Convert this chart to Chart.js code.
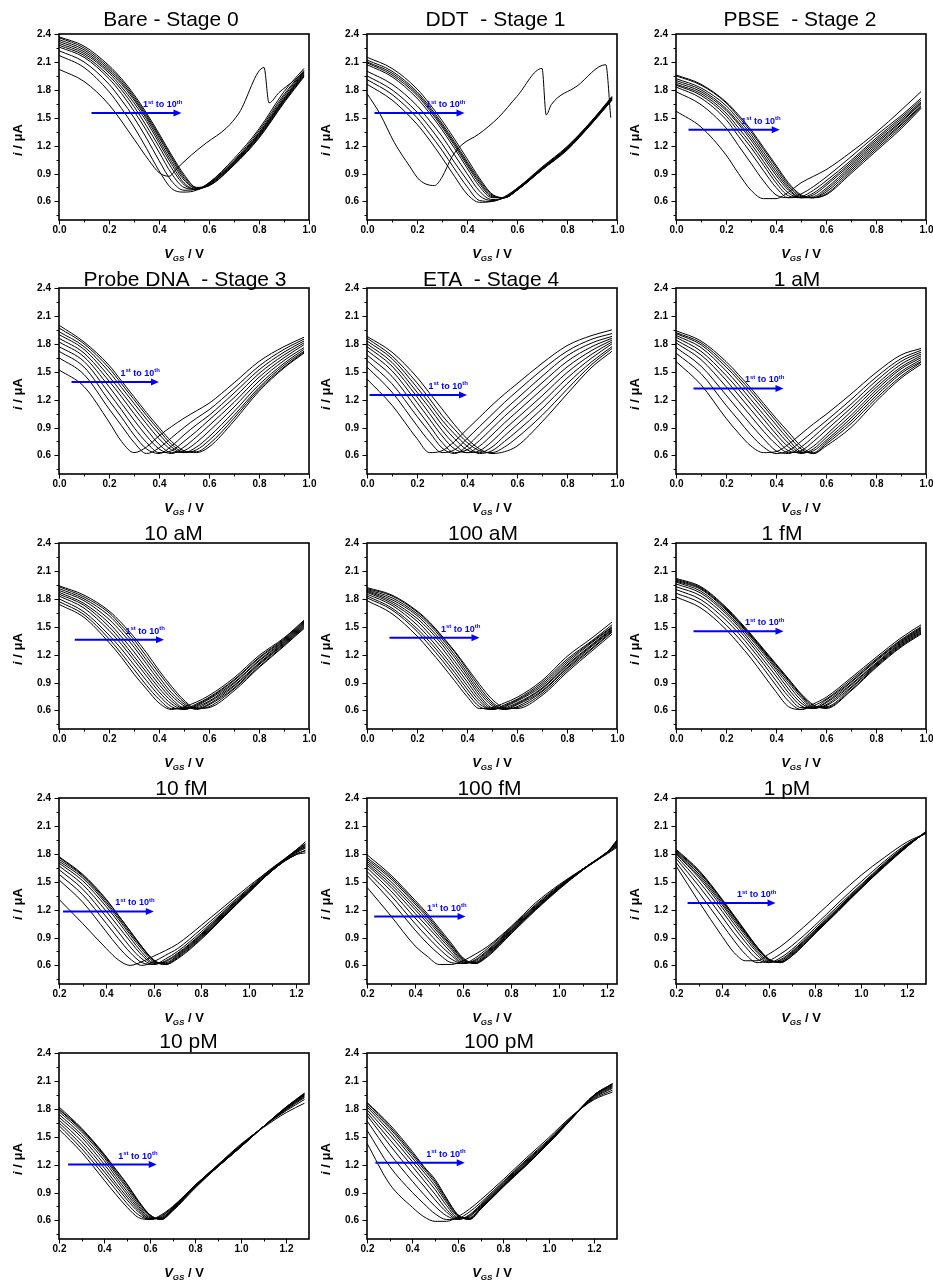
<!DOCTYPE html>
<html><head><meta charset="utf-8">
<script src="https://cdn.jsdelivr.net/npm/chart.js@4.4.1/dist/chart.umd.min.js"></script>
<style>
html,body{margin:0;padding:0;background:#fff;}
#wrap{position:relative;width:933px;height:1285px;overflow:hidden;background:#fff;}
#wrap canvas{position:absolute;}
</style></head><body><div id="wrap"></div>
<script>
// ---------- data ----------
const TITLES = ['Bare - Stage 0','DDT  - Stage 1','PBSE  - Stage 2','Probe DNA  - Stage 3','ETA  - Stage 4','1 aM','10 aM','100 aM','1 fM','10 fM','100 fM','1 pM','10 pM','100 pM'];
const Y_MAJOR = [0.6, 0.9, 1.2, 1.5, 1.8, 2.1, 2.4];
const Y_MINOR = [0.45, 0.75, 1.05, 1.35, 1.65, 1.95, 2.25];
const X_MAJOR_A = [0, 0.2, 0.4, 0.6, 0.8, 1.0];
const X_MINOR_A = [0.1, 0.3, 0.5, 0.7, 0.9];
const X_MAJOR_B = [0.2, 0.4, 0.6, 0.8, 1.0, 1.2];
const X_MINOR_B = [0.3, 0.5, 0.7, 0.9, 1.1];
const X_MIN = [0,0,0,0,0,0,0,0,0,0.2,0.2,0.2,0.2,0.2];
const X_MAX = [1,1,1,1,1,1,1,1,1,1.255,1.24,1.28,1.3,1.3];
const ARROW_Y  = [1.55, 1.55, 1.37, 1.39, 1.25, 1.32, 1.36, 1.38, 1.45, 1.18, 1.125, 1.27, 1.2, 1.22];
const ARROW_X0 = [0.13, 0.03, 0.05, 0.05, 0.01, 0.07, 0.063, 0.09, 0.07, 0.217, 0.23, 0.25, 0.24, 0.237];
const ARROW_X1 = [0.49, 0.39, 0.415, 0.40, 0.40, 0.43, 0.42, 0.45, 0.43, 0.60, 0.61, 0.63, 0.63, 0.63];

const X_A = [0, 0.1, 0.2, 0.25, 0.3, 0.35, 0.4, 0.45, 0.5, 0.55, 0.6, 0.7, 0.8, 0.9, 0.98];
const X_B = [0.2, 0.3, 0.4, 0.45, 0.5, 0.55, 0.6, 0.65, 0.7, 0.8, 0.9, 1.0, 1.1, 1.2, 1.24];
const X_C = [0.2, 0.3, 0.4, 0.45, 0.5, 0.55, 0.6, 0.65, 0.7, 0.8, 0.9, 1.0, 1.1, 1.2, 1.28];

const bareFirstX = [0, 0.1, 0.2, 0.3, 0.36, 0.4, 0.44, 0.47, 0.53, 0.59, 0.67, 0.72, 0.82, 0.84, 0.88, 0.94, 0.98];
const bareFirstY = [2.02, 1.89, 1.64, 1.27, 1.04, 0.91, 0.87, 0.95, 1.10, 1.23, 1.39, 1.55, 2.04, 1.66, 1.77, 1.90, 1.99];
const bareY = [
 [2.17, 2.04, 1.78, 1.60, 1.40, 1.17, 0.93, 0.74, 0.70, 0.72, 0.80, 1.06, 1.38, 1.78, 2.03],
 [2.22, 2.10, 1.86, 1.69, 1.50, 1.28, 1.04, 0.82, 0.72, 0.73, 0.80, 1.04, 1.36, 1.75, 2.01],
 [2.26, 2.15, 1.92, 1.76, 1.57, 1.36, 1.13, 0.90, 0.75, 0.73, 0.79, 1.03, 1.34, 1.73, 2.00],
 [2.28, 2.17, 1.95, 1.80, 1.62, 1.41, 1.19, 0.96, 0.78, 0.73, 0.79, 1.02, 1.33, 1.71, 1.99],
 [2.30, 2.19, 1.98, 1.83, 1.66, 1.46, 1.23, 1.00, 0.80, 0.73, 0.78, 1.02, 1.32, 1.70, 1.98],
 [2.32, 2.21, 2.00, 1.86, 1.69, 1.49, 1.26, 1.03, 0.83, 0.74, 0.78, 1.01, 1.31, 1.69, 1.97],
 [2.34, 2.23, 2.02, 1.88, 1.71, 1.51, 1.29, 1.06, 0.85, 0.74, 0.77, 1.00, 1.30, 1.68, 1.96],
 [2.36, 2.25, 2.04, 1.90, 1.73, 1.53, 1.31, 1.08, 0.87, 0.75, 0.77, 1.00, 1.29, 1.67, 1.95],
 [2.37, 2.27, 2.06, 1.92, 1.75, 1.55, 1.33, 1.10, 0.89, 0.75, 0.77, 0.99, 1.28, 1.66, 1.94]
];
const ddtFirstX = [0, 0.05, 0.11, 0.17, 0.21, 0.27, 0.3, 0.34, 0.38, 0.445, 0.525, 0.6, 0.7, 0.717, 0.737, 0.84, 0.955, 0.975];
const ddtFirstY = [1.76, 1.55, 1.23, 0.98, 0.83, 0.77, 0.86, 1.08, 1.21, 1.32, 1.50, 1.73, 2.03, 1.53, 1.64, 1.84, 2.07, 1.50];
const ddtY = [
 [1.86, 1.69, 1.43, 1.26, 1.07, 0.87, 0.68, 0.59, 0.60, 0.65, 0.74, 0.97, 1.19, 1.47, 1.73],
 [1.91, 1.75, 1.50, 1.33, 1.15, 0.95, 0.76, 0.61, 0.60, 0.65, 0.74, 0.96, 1.18, 1.47, 1.72],
 [1.95, 1.80, 1.56, 1.40, 1.22, 1.02, 0.83, 0.66, 0.61, 0.64, 0.73, 0.96, 1.18, 1.46, 1.72],
 [2.00, 1.86, 1.63, 1.47, 1.30, 1.10, 0.90, 0.71, 0.62, 0.64, 0.73, 0.95, 1.17, 1.46, 1.71],
 [2.07, 1.94, 1.71, 1.55, 1.37, 1.17, 0.96, 0.76, 0.64, 0.64, 0.73, 0.95, 1.17, 1.45, 1.71],
 [2.09, 1.96, 1.74, 1.58, 1.40, 1.20, 0.99, 0.79, 0.65, 0.64, 0.72, 0.95, 1.16, 1.45, 1.70],
 [2.10, 1.98, 1.76, 1.60, 1.42, 1.22, 1.01, 0.81, 0.66, 0.64, 0.72, 0.94, 1.16, 1.45, 1.70],
 [2.12, 2.00, 1.78, 1.62, 1.44, 1.24, 1.03, 0.83, 0.67, 0.64, 0.72, 0.94, 1.16, 1.44, 1.69],
 [2.15, 2.03, 1.81, 1.65, 1.47, 1.27, 1.06, 0.85, 0.68, 0.64, 0.72, 0.94, 1.15, 1.44, 1.69]
];
const pbseY = [
 [1.57, 1.40, 1.10, 0.90, 0.72, 0.63, 0.63, 0.70, 0.80, 0.87, 0.94, 1.13, 1.34, 1.58, 1.78],
 [1.78, 1.64, 1.39, 1.20, 1.01, 0.82, 0.67, 0.64, 0.68, 0.76, 0.86, 1.08, 1.31, 1.52, 1.71],
 [1.83, 1.71, 1.48, 1.30, 1.12, 0.93, 0.75, 0.64, 0.65, 0.72, 0.82, 1.04, 1.28, 1.50, 1.69],
 [1.85, 1.74, 1.52, 1.35, 1.18, 0.99, 0.80, 0.66, 0.64, 0.69, 0.79, 1.02, 1.26, 1.48, 1.67],
 [1.86, 1.76, 1.55, 1.39, 1.22, 1.03, 0.84, 0.69, 0.64, 0.67, 0.77, 1.00, 1.24, 1.46, 1.66],
 [1.88, 1.78, 1.58, 1.43, 1.26, 1.07, 0.88, 0.72, 0.64, 0.65, 0.74, 0.98, 1.22, 1.45, 1.65],
 [1.90, 1.80, 1.60, 1.45, 1.29, 1.10, 0.91, 0.74, 0.64, 0.64, 0.72, 0.96, 1.20, 1.43, 1.63],
 [1.92, 1.82, 1.63, 1.48, 1.32, 1.13, 0.94, 0.76, 0.65, 0.64, 0.70, 0.94, 1.18, 1.42, 1.62],
 [1.95, 1.85, 1.66, 1.51, 1.35, 1.16, 0.97, 0.78, 0.66, 0.64, 0.68, 0.92, 1.16, 1.40, 1.61],
 [1.96, 1.86, 1.67, 1.53, 1.37, 1.18, 0.99, 0.80, 0.67, 0.64, 0.67, 0.90, 1.14, 1.38, 1.60]
];
const probeY = [
 [1.52, 1.34, 0.96, 0.75, 0.63, 0.69, 0.81, 0.91, 1.00, 1.08, 1.16, 1.38, 1.61, 1.77, 1.87],
 [1.65, 1.47, 1.10, 0.92, 0.74, 0.62, 0.68, 0.79, 0.90, 1.00, 1.09, 1.32, 1.56, 1.74, 1.85],
 [1.72, 1.55, 1.19, 1.01, 0.82, 0.67, 0.62, 0.70, 0.82, 0.93, 1.03, 1.27, 1.52, 1.71, 1.83],
 [1.77, 1.61, 1.27, 1.09, 0.90, 0.74, 0.63, 0.65, 0.75, 0.86, 0.98, 1.22, 1.48, 1.68, 1.81],
 [1.82, 1.66, 1.34, 1.16, 0.98, 0.81, 0.67, 0.62, 0.69, 0.80, 0.92, 1.17, 1.44, 1.65, 1.79],
 [1.86, 1.70, 1.40, 1.23, 1.05, 0.88, 0.72, 0.63, 0.65, 0.74, 0.86, 1.12, 1.40, 1.62, 1.76],
 [1.90, 1.74, 1.45, 1.28, 1.11, 0.94, 0.78, 0.66, 0.63, 0.69, 0.80, 1.07, 1.36, 1.59, 1.74],
 [1.93, 1.77, 1.50, 1.33, 1.16, 0.99, 0.83, 0.69, 0.63, 0.66, 0.76, 1.03, 1.33, 1.57, 1.72],
 [1.97, 1.80, 1.54, 1.37, 1.20, 1.03, 0.87, 0.72, 0.64, 0.64, 0.72, 1.00, 1.31, 1.55, 1.71],
 [2.00, 1.82, 1.57, 1.40, 1.23, 1.06, 0.90, 0.75, 0.65, 0.63, 0.69, 0.97, 1.29, 1.54, 1.70]
];
const etaY = [
 [1.42, 1.14, 0.78, 0.63, 0.65, 0.75, 0.88, 1.01, 1.14, 1.26, 1.37, 1.59, 1.78, 1.89, 1.95],
 [1.55, 1.28, 0.92, 0.75, 0.63, 0.66, 0.78, 0.91, 1.04, 1.17, 1.29, 1.52, 1.72, 1.85, 1.91],
 [1.62, 1.37, 1.02, 0.85, 0.68, 0.62, 0.70, 0.83, 0.96, 1.09, 1.21, 1.45, 1.67, 1.81, 1.88],
 [1.68, 1.45, 1.10, 0.92, 0.74, 0.63, 0.66, 0.76, 0.89, 1.02, 1.14, 1.38, 1.61, 1.77, 1.86],
 [1.73, 1.51, 1.17, 0.99, 0.81, 0.67, 0.63, 0.70, 0.82, 0.95, 1.07, 1.31, 1.55, 1.73, 1.84],
 [1.77, 1.56, 1.23, 1.05, 0.87, 0.72, 0.63, 0.65, 0.75, 0.88, 1.00, 1.24, 1.49, 1.69, 1.82],
 [1.80, 1.60, 1.28, 1.11, 0.93, 0.78, 0.66, 0.63, 0.69, 0.81, 0.93, 1.17, 1.43, 1.65, 1.80],
 [1.83, 1.64, 1.33, 1.16, 0.98, 0.83, 0.70, 0.62, 0.65, 0.75, 0.86, 1.10, 1.37, 1.61, 1.77],
 [1.86, 1.67, 1.38, 1.21, 1.03, 0.88, 0.74, 0.65, 0.63, 0.69, 0.79, 1.03, 1.31, 1.58, 1.75],
 [1.88, 1.71, 1.44, 1.27, 1.10, 0.93, 0.78, 0.67, 0.62, 0.64, 0.70, 0.96, 1.26, 1.55, 1.72]
];
const aM1Y = [
 [1.61, 1.36, 1.00, 0.84, 0.70, 0.63, 0.64, 0.72, 0.83, 0.94, 1.04, 1.26, 1.49, 1.68, 1.75],
 [1.70, 1.48, 1.14, 0.98, 0.82, 0.69, 0.62, 0.65, 0.75, 0.86, 0.97, 1.20, 1.44, 1.64, 1.73],
 [1.76, 1.56, 1.25, 1.09, 0.93, 0.78, 0.65, 0.62, 0.69, 0.80, 0.92, 1.15, 1.40, 1.61, 1.71],
 [1.81, 1.63, 1.34, 1.18, 1.02, 0.86, 0.72, 0.63, 0.65, 0.75, 0.87, 1.11, 1.36, 1.58, 1.69],
 [1.84, 1.68, 1.41, 1.25, 1.09, 0.93, 0.78, 0.65, 0.63, 0.70, 0.82, 1.07, 1.33, 1.55, 1.67],
 [1.87, 1.72, 1.46, 1.31, 1.15, 0.99, 0.83, 0.69, 0.62, 0.67, 0.79, 1.03, 1.30, 1.53, 1.65],
 [1.89, 1.76, 1.51, 1.36, 1.20, 1.04, 0.88, 0.73, 0.63, 0.65, 0.76, 1.00, 1.27, 1.50, 1.63],
 [1.91, 1.79, 1.55, 1.41, 1.25, 1.09, 0.93, 0.77, 0.64, 0.63, 0.74, 0.97, 1.24, 1.48, 1.61],
 [1.92, 1.81, 1.58, 1.44, 1.29, 1.13, 0.97, 0.81, 0.67, 0.62, 0.72, 0.94, 1.21, 1.45, 1.60],
 [1.94, 1.83, 1.61, 1.47, 1.32, 1.16, 1.00, 0.85, 0.70, 0.62, 0.70, 0.90, 1.18, 1.43, 1.58]
];
const aM10Y = [
 [1.74, 1.60, 1.33, 1.17, 0.99, 0.83, 0.68, 0.61, 0.64, 0.69, 0.76, 0.95, 1.19, 1.38, 1.57],
 [1.77, 1.63, 1.37, 1.21, 1.04, 0.87, 0.72, 0.62, 0.62, 0.67, 0.74, 0.93, 1.17, 1.37, 1.56],
 [1.80, 1.66, 1.41, 1.26, 1.09, 0.92, 0.76, 0.64, 0.61, 0.66, 0.73, 0.92, 1.16, 1.36, 1.55],
 [1.83, 1.70, 1.46, 1.31, 1.14, 0.97, 0.80, 0.67, 0.61, 0.65, 0.72, 0.90, 1.14, 1.35, 1.54],
 [1.85, 1.73, 1.50, 1.35, 1.18, 1.01, 0.84, 0.70, 0.62, 0.64, 0.70, 0.89, 1.13, 1.34, 1.53],
 [1.87, 1.75, 1.54, 1.39, 1.23, 1.05, 0.88, 0.73, 0.63, 0.63, 0.69, 0.87, 1.11, 1.33, 1.52],
 [1.89, 1.78, 1.58, 1.44, 1.28, 1.10, 0.92, 0.76, 0.65, 0.62, 0.67, 0.86, 1.10, 1.32, 1.51],
 [1.91, 1.80, 1.62, 1.48, 1.32, 1.14, 0.96, 0.79, 0.67, 0.61, 0.66, 0.84, 1.09, 1.31, 1.50],
 [1.93, 1.82, 1.65, 1.51, 1.36, 1.18, 1.00, 0.83, 0.69, 0.62, 0.64, 0.83, 1.07, 1.30, 1.49],
 [1.94, 1.84, 1.67, 1.54, 1.39, 1.22, 1.03, 0.86, 0.71, 0.62, 0.63, 0.81, 1.06, 1.29, 1.48]
];
const aM100Y = [
 [1.78, 1.64, 1.40, 1.25, 1.09, 0.92, 0.75, 0.62, 0.63, 0.68, 0.74, 0.92, 1.18, 1.38, 1.55],
 [1.81, 1.68, 1.45, 1.30, 1.14, 0.97, 0.79, 0.64, 0.61, 0.66, 0.72, 0.90, 1.15, 1.35, 1.52],
 [1.83, 1.70, 1.48, 1.34, 1.18, 1.01, 0.83, 0.67, 0.61, 0.65, 0.71, 0.88, 1.13, 1.34, 1.50],
 [1.85, 1.73, 1.52, 1.38, 1.22, 1.05, 0.87, 0.70, 0.61, 0.64, 0.70, 0.86, 1.11, 1.33, 1.49],
 [1.87, 1.75, 1.56, 1.42, 1.27, 1.09, 0.91, 0.73, 0.62, 0.63, 0.68, 0.84, 1.09, 1.31, 1.48],
 [1.88, 1.77, 1.59, 1.46, 1.31, 1.13, 0.95, 0.76, 0.63, 0.62, 0.67, 0.83, 1.08, 1.30, 1.47],
 [1.89, 1.79, 1.62, 1.49, 1.34, 1.17, 0.98, 0.79, 0.65, 0.61, 0.66, 0.81, 1.06, 1.29, 1.46],
 [1.90, 1.81, 1.64, 1.52, 1.37, 1.20, 1.01, 0.82, 0.67, 0.61, 0.64, 0.80, 1.05, 1.27, 1.45],
 [1.91, 1.83, 1.66, 1.54, 1.39, 1.23, 1.04, 0.85, 0.69, 0.62, 0.63, 0.78, 1.03, 1.26, 1.44],
 [1.92, 1.84, 1.67, 1.55, 1.40, 1.24, 1.06, 0.88, 0.72, 0.63, 0.62, 0.76, 1.01, 1.24, 1.42]
];
const fM1Y = [
 [1.82, 1.70, 1.47, 1.32, 1.16, 0.98, 0.80, 0.64, 0.61, 0.67, 0.74, 0.95, 1.17, 1.38, 1.52],
 [1.86, 1.75, 1.52, 1.38, 1.22, 1.05, 0.87, 0.70, 0.61, 0.65, 0.72, 0.93, 1.15, 1.36, 1.50],
 [1.90, 1.79, 1.57, 1.43, 1.27, 1.10, 0.92, 0.75, 0.63, 0.63, 0.71, 0.91, 1.14, 1.35, 1.49],
 [1.93, 1.83, 1.61, 1.47, 1.31, 1.14, 0.97, 0.79, 0.65, 0.62, 0.69, 0.90, 1.13, 1.34, 1.48],
 [1.96, 1.86, 1.64, 1.50, 1.34, 1.18, 1.01, 0.83, 0.68, 0.62, 0.68, 0.88, 1.11, 1.33, 1.47],
 [1.98, 1.88, 1.66, 1.52, 1.37, 1.21, 1.04, 0.87, 0.71, 0.62, 0.66, 0.87, 1.10, 1.32, 1.46],
 [1.99, 1.90, 1.68, 1.54, 1.39, 1.23, 1.06, 0.90, 0.74, 0.63, 0.65, 0.85, 1.09, 1.31, 1.45],
 [2.00, 1.91, 1.69, 1.55, 1.40, 1.24, 1.08, 0.92, 0.76, 0.64, 0.64, 0.84, 1.08, 1.30, 1.44],
 [2.01, 1.92, 1.70, 1.56, 1.41, 1.25, 1.09, 0.93, 0.77, 0.65, 0.63, 0.82, 1.07, 1.29, 1.43],
 [2.02, 1.93, 1.71, 1.57, 1.42, 1.26, 1.10, 0.94, 0.78, 0.66, 0.62, 0.81, 1.06, 1.28, 1.42]
];
const fM10Y = [
 [1.31, 1.05, 0.78, 0.66, 0.60, 0.64, 0.70, 0.76, 0.83, 1.03, 1.24, 1.45, 1.64, 1.79, 1.84],
 [1.52, 1.28, 0.96, 0.80, 0.67, 0.60, 0.64, 0.71, 0.78, 0.99, 1.21, 1.43, 1.65, 1.82, 1.88],
 [1.58, 1.36, 1.05, 0.89, 0.74, 0.63, 0.61, 0.67, 0.75, 0.96, 1.19, 1.42, 1.64, 1.83, 1.90],
 [1.63, 1.42, 1.12, 0.96, 0.80, 0.67, 0.61, 0.65, 0.73, 0.94, 1.18, 1.41, 1.64, 1.84, 1.91],
 [1.67, 1.47, 1.18, 1.02, 0.86, 0.71, 0.62, 0.64, 0.72, 0.93, 1.17, 1.40, 1.63, 1.84, 1.93],
 [1.70, 1.51, 1.23, 1.07, 0.90, 0.74, 0.63, 0.63, 0.71, 0.92, 1.16, 1.40, 1.63, 1.83, 1.89],
 [1.72, 1.54, 1.26, 1.10, 0.93, 0.77, 0.64, 0.62, 0.70, 0.91, 1.15, 1.39, 1.62, 1.82, 1.87],
 [1.74, 1.56, 1.28, 1.12, 0.95, 0.79, 0.65, 0.61, 0.69, 0.90, 1.14, 1.39, 1.62, 1.81, 1.86],
 [1.76, 1.57, 1.30, 1.14, 0.97, 0.80, 0.66, 0.61, 0.68, 0.89, 1.14, 1.38, 1.62, 1.80, 1.83],
 [1.77, 1.58, 1.31, 1.14, 0.97, 0.80, 0.65, 0.61, 0.67, 0.88, 1.13, 1.38, 1.62, 1.79, 1.81]
];
const fM100Y = [
 [1.44, 1.13, 0.81, 0.70, 0.61, 0.61, 0.65, 0.72, 0.80, 1.02, 1.27, 1.47, 1.64, 1.80, 1.87],
 [1.57, 1.29, 0.98, 0.84, 0.72, 0.63, 0.62, 0.68, 0.78, 1.01, 1.25, 1.46, 1.64, 1.81, 1.88],
 [1.61, 1.35, 1.05, 0.91, 0.78, 0.67, 0.62, 0.66, 0.76, 1.00, 1.24, 1.45, 1.64, 1.81, 1.89],
 [1.65, 1.40, 1.11, 0.97, 0.83, 0.71, 0.62, 0.65, 0.75, 0.99, 1.23, 1.45, 1.64, 1.82, 1.90],
 [1.68, 1.44, 1.16, 1.02, 0.88, 0.74, 0.63, 0.64, 0.74, 0.98, 1.22, 1.44, 1.64, 1.82, 1.91],
 [1.70, 1.47, 1.20, 1.06, 0.91, 0.77, 0.64, 0.63, 0.73, 0.97, 1.21, 1.44, 1.64, 1.82, 1.92],
 [1.72, 1.50, 1.23, 1.09, 0.94, 0.79, 0.65, 0.63, 0.72, 0.97, 1.21, 1.43, 1.64, 1.82, 1.93],
 [1.74, 1.53, 1.26, 1.12, 0.96, 0.81, 0.66, 0.62, 0.71, 0.96, 1.20, 1.43, 1.63, 1.82, 1.93],
 [1.76, 1.55, 1.28, 1.14, 0.98, 0.82, 0.67, 0.62, 0.70, 0.95, 1.20, 1.43, 1.63, 1.82, 1.94],
 [1.79, 1.57, 1.30, 1.16, 1.00, 0.84, 0.68, 0.62, 0.69, 0.94, 1.19, 1.42, 1.63, 1.82, 1.95]
];
const pM1Y = [
 [1.67, 1.28, 0.91, 0.74, 0.65, 0.65, 0.72, 0.80, 0.90, 1.12, 1.35, 1.57, 1.76, 1.93, 2.02],
 [1.71, 1.38, 1.04, 0.87, 0.72, 0.63, 0.65, 0.72, 0.81, 1.03, 1.27, 1.50, 1.72, 1.91, 2.02],
 [1.75, 1.45, 1.12, 0.95, 0.80, 0.67, 0.63, 0.68, 0.77, 1.00, 1.24, 1.47, 1.70, 1.90, 2.03],
 [1.78, 1.50, 1.18, 1.01, 0.85, 0.71, 0.63, 0.66, 0.75, 0.98, 1.22, 1.46, 1.69, 1.90, 2.03],
 [1.80, 1.54, 1.22, 1.05, 0.89, 0.74, 0.64, 0.65, 0.74, 0.97, 1.21, 1.45, 1.68, 1.89, 2.03],
 [1.81, 1.56, 1.25, 1.08, 0.92, 0.76, 0.65, 0.64, 0.73, 0.96, 1.20, 1.44, 1.68, 1.89, 2.03],
 [1.82, 1.58, 1.27, 1.10, 0.94, 0.78, 0.66, 0.64, 0.72, 0.95, 1.20, 1.44, 1.67, 1.89, 2.03],
 [1.83, 1.60, 1.29, 1.12, 0.95, 0.79, 0.66, 0.63, 0.71, 0.95, 1.19, 1.43, 1.67, 1.89, 2.04],
 [1.84, 1.61, 1.30, 1.13, 0.96, 0.80, 0.67, 0.63, 0.70, 0.94, 1.19, 1.43, 1.67, 1.88, 2.04],
 [1.85, 1.62, 1.31, 1.14, 0.97, 0.80, 0.67, 0.63, 0.70, 0.94, 1.18, 1.43, 1.66, 1.88, 2.04]
];
const pM10Y = [
 [1.58, 1.33, 1.03, 0.88, 0.74, 0.63, 0.61, 0.66, 0.75, 0.98, 1.20, 1.42, 1.60, 1.76, 1.86],
 [1.62, 1.37, 1.08, 0.93, 0.78, 0.66, 0.61, 0.65, 0.74, 0.98, 1.20, 1.41, 1.61, 1.78, 1.90],
 [1.65, 1.41, 1.12, 0.97, 0.82, 0.69, 0.61, 0.64, 0.74, 0.98, 1.19, 1.41, 1.61, 1.79, 1.92],
 [1.68, 1.45, 1.16, 1.00, 0.85, 0.71, 0.62, 0.63, 0.73, 0.98, 1.19, 1.40, 1.61, 1.80, 1.93],
 [1.71, 1.49, 1.20, 1.04, 0.88, 0.73, 0.62, 0.63, 0.73, 0.97, 1.19, 1.40, 1.61, 1.80, 1.94],
 [1.74, 1.52, 1.24, 1.07, 0.91, 0.75, 0.63, 0.62, 0.72, 0.97, 1.19, 1.40, 1.61, 1.81, 1.95],
 [1.77, 1.55, 1.27, 1.10, 0.94, 0.77, 0.64, 0.62, 0.72, 0.97, 1.18, 1.39, 1.61, 1.81, 1.95],
 [1.79, 1.57, 1.29, 1.12, 0.96, 0.79, 0.65, 0.61, 0.71, 0.96, 1.18, 1.39, 1.61, 1.82, 1.96],
 [1.80, 1.58, 1.30, 1.14, 0.98, 0.80, 0.66, 0.61, 0.71, 0.96, 1.18, 1.39, 1.61, 1.82, 1.96],
 [1.82, 1.59, 1.31, 1.15, 0.99, 0.81, 0.66, 0.61, 0.70, 0.95, 1.18, 1.39, 1.61, 1.82, 1.97]
];
const pM100Y = [
 [1.43, 0.99, 0.74, 0.64, 0.59, 0.59, 0.64, 0.72, 0.82, 1.04, 1.27, 1.49, 1.72, 1.90, 1.98],
 [1.57, 1.18, 0.90, 0.78, 0.67, 0.61, 0.62, 0.69, 0.79, 1.02, 1.25, 1.47, 1.71, 1.91, 2.00],
 [1.67, 1.32, 1.02, 0.88, 0.75, 0.65, 0.61, 0.66, 0.77, 1.01, 1.24, 1.46, 1.71, 1.92, 2.02],
 [1.73, 1.41, 1.11, 0.97, 0.82, 0.69, 0.61, 0.65, 0.76, 1.00, 1.23, 1.45, 1.71, 1.93, 2.03],
 [1.76, 1.47, 1.18, 1.03, 0.88, 0.72, 0.62, 0.64, 0.75, 0.99, 1.22, 1.45, 1.70, 1.94, 2.04],
 [1.79, 1.52, 1.23, 1.08, 0.93, 0.76, 0.63, 0.63, 0.74, 0.98, 1.21, 1.44, 1.70, 1.94, 2.05],
 [1.82, 1.56, 1.27, 1.12, 0.97, 0.79, 0.64, 0.62, 0.73, 0.98, 1.20, 1.44, 1.70, 1.95, 2.06],
 [1.84, 1.59, 1.30, 1.15, 1.00, 0.81, 0.65, 0.62, 0.73, 0.97, 1.20, 1.43, 1.70, 1.95, 2.06],
 [1.86, 1.61, 1.32, 1.17, 1.02, 0.83, 0.66, 0.61, 0.72, 0.97, 1.19, 1.43, 1.69, 1.95, 2.07],
 [1.87, 1.63, 1.34, 1.18, 1.04, 0.84, 0.66, 0.61, 0.72, 0.96, 1.19, 1.43, 1.69, 1.95, 2.07]
];

// ---------- layout (positions / styles) ----------
const COL_LEFT = [0, 308, 617];
const ROW_TOP = [0, 254, 509, 764, 1019];
const TITLE_DX = [-13, 3.5, -1, 1, -1, -4, -10.5, -9, -19, -2.5, -2.5, -14, 4.5, 7];
const TITLE_GAP = [8, 2.5, 3.5, 3.5, 5];
const FF = 'Arial, "Liberation Sans", Helvetica, sans-serif';
const BLUE = '#0000ff';

const onGrid = (xs, ys) => ({x: xs, y: ys});
const CURVES = [
  [onGrid(bareFirstX, bareFirstY), ...bareY.map(y => onGrid(X_A, y))],
  [onGrid(ddtFirstX, ddtFirstY), ...ddtY.map(y => onGrid(X_A, y))],
  pbseY.map(y => onGrid(X_A, y)),
  probeY.map(y => onGrid(X_A, y)),
  etaY.map(y => onGrid(X_A, y)),
  aM1Y.map(y => onGrid(X_A, y)),
  aM10Y.map(y => onGrid(X_A, y)),
  aM100Y.map(y => onGrid(X_A, y)),
  fM1Y.map(y => onGrid(X_A, y)),
  fM10Y.map(y => onGrid(X_B, y)),
  fM100Y.map(y => onGrid(X_B, y)),
  pM1Y.map(y => onGrid(X_C, y)),
  pM10Y.map(y => onGrid(X_C, y)),
  pM100Y.map(y => onGrid(X_C, y))
];

function drawParts(ctx, parts, xStart, base) {
  let x = xStart;
  for (const [t, f, dy] of parts) { ctx.font = f; ctx.fillText(t, x, base + dy); x += ctx.measureText(t).width; }
}
function partsWidth(ctx, parts) {
  let w = 0; for (const [t, f] of parts) { ctx.font = f; w += ctx.measureText(t).width; } return w;
}

function makeDeco(i) {
  const row = Math.floor(i / 3);
  return {
    id: 'deco' + i,
    afterDraw(chart) {
      const ctx = chart.ctx, a = chart.chartArea;
      const sx = chart.scales.x, sy = chart.scales.y;
      ctx.save();
      ctx.strokeStyle = '#000'; ctx.fillStyle = '#000';
      // frame
      ctx.lineWidth = 1.6;
      ctx.strokeRect(a.left, a.top, a.right - a.left, a.bottom - a.top);
      ctx.lineWidth = 1;
      // y ticks
      ctx.font = 'bold 10px ' + FF; ctx.textAlign = 'right'; ctx.textBaseline = 'middle';
      for (const v of Y_MINOR) { const p = Math.round(sy.getPixelForValue(v)) + 0.5; ctx.beginPath(); ctx.moveTo(a.left - 2.5, p); ctx.lineTo(a.left, p); ctx.stroke(); }
      for (const v of Y_MAJOR) { const p = Math.round(sy.getPixelForValue(v)) + 0.5; ctx.beginPath(); ctx.moveTo(a.left - 4.5, p); ctx.lineTo(a.left, p); ctx.stroke(); ctx.fillText(v.toFixed(1), a.left - 8, p); }
      // x ticks
      const xMaj = i < 9 ? X_MAJOR_A : X_MAJOR_B, xMin = i < 9 ? X_MINOR_A : X_MINOR_B;
      ctx.textAlign = 'center';
      for (const v of xMin) { const p = Math.round(sx.getPixelForValue(v)) + 0.5; ctx.beginPath(); ctx.moveTo(p, a.bottom); ctx.lineTo(p, a.bottom + 2.5); ctx.stroke(); }
      for (const v of xMaj) { const p = Math.round(sx.getPixelForValue(v)) + 0.5; ctx.beginPath(); ctx.moveTo(p, a.bottom); ctx.lineTo(p, a.bottom + 4.5); ctx.stroke(); ctx.fillText(v.toFixed(1), p, a.bottom + 10); }
      // title
      ctx.font = '21px ' + FF; ctx.textAlign = 'center'; ctx.textBaseline = 'alphabetic';
      ctx.fillText(TITLES[i], (a.left + a.right) / 2 + TITLE_DX[i], a.top - TITLE_GAP[row]);
      // x axis title
      ctx.textAlign = 'left';
      const xParts = [['V', 'italic bold 13px ' + FF, 0], ['GS', 'italic bold 8px ' + FF, 3], [' / V', 'bold 13px ' + FF, 0]];
      const wx = partsWidth(ctx, xParts);
      drawParts(ctx, xParts, (a.left + a.right) / 2 - wx / 2, a.bottom + 38);
      // y axis title
      ctx.save();
      ctx.translate(a.left - 37, a.top + 106);
      ctx.rotate(-Math.PI / 2);
      const yParts = [['i', 'italic bold 13px ' + FF, 0], [' / \u03BCA', 'bold 13px ' + FF, 0]];
      const wy = partsWidth(ctx, yParts);
      drawParts(ctx, yParts, -wy / 2, 0);
      ctx.restore();
      // arrow
      const py = sy.getPixelForValue(ARROW_Y[i]);
      const x0 = sx.getPixelForValue(ARROW_X0[i]), x1 = sx.getPixelForValue(ARROW_X1[i]);
      ctx.strokeStyle = BLUE; ctx.fillStyle = BLUE; ctx.lineWidth = 2;
      ctx.beginPath(); ctx.moveTo(x0, py); ctx.lineTo(x1 - 6, py); ctx.stroke();
      ctx.beginPath(); ctx.moveTo(x1, py); ctx.lineTo(x1 - 8, py - 3.5); ctx.lineTo(x1 - 8, py + 3.5); ctx.closePath(); ctx.fill();
      const lParts = [['1', 'bold 9px ' + FF, 0], ['st', 'bold 6px ' + FF, -3.5], [' to 10', 'bold 9px ' + FF, 0], ['th', 'bold 6px ' + FF, -3.5]];
      const wl = partsWidth(ctx, lParts);
      drawParts(ctx, lParts, x1 + 1 - wl, py - 6);
      ctx.restore();
    }
  };
}

const wrap = document.getElementById('wrap');
for (let i = 0; i < 14; i++) {
  const row = Math.floor(i / 3), col = i % 3;
  const cv = document.createElement('canvas');
  cv.width = 320; cv.height = 265;
  cv.style.left = COL_LEFT[col] + 'px'; cv.style.top = ROW_TOP[row] + 'px';
  cv.style.width = '320px'; cv.style.height = '265px';
  wrap.appendChild(cv);
  new Chart(cv, {
    type: 'line',
    data: {
      datasets: CURVES[i].map(c => ({
        data: c.x.map((x, j) => ({x: x, y: c.y[j]})),
        borderColor: '#000', borderWidth: 1, pointRadius: 0, fill: false,
        cubicInterpolationMode: 'monotone'
      }))
    },
    options: {
      responsive: false, animation: false, events: [],
      layout: {padding: {left: 0, top: 34, right: 11, bottom: 0}},
      plugins: {legend: {display: false}, tooltip: {enabled: false}, title: {display: false}},
      scales: {
        x: {type: 'linear', min: X_MIN[i], max: X_MAX[i], ticks: {display: false}, grid: {display: false}, border: {display: false}, afterFit(s) { s.height = 45; }},
        y: {type: 'linear', min: 0.4, max: 2.4, ticks: {display: false}, grid: {display: false}, border: {display: false}, afterFit(s) { s.width = 59; }}
      }
    },
    plugins: [makeDeco(i)]
  });
}
</script></body></html>
